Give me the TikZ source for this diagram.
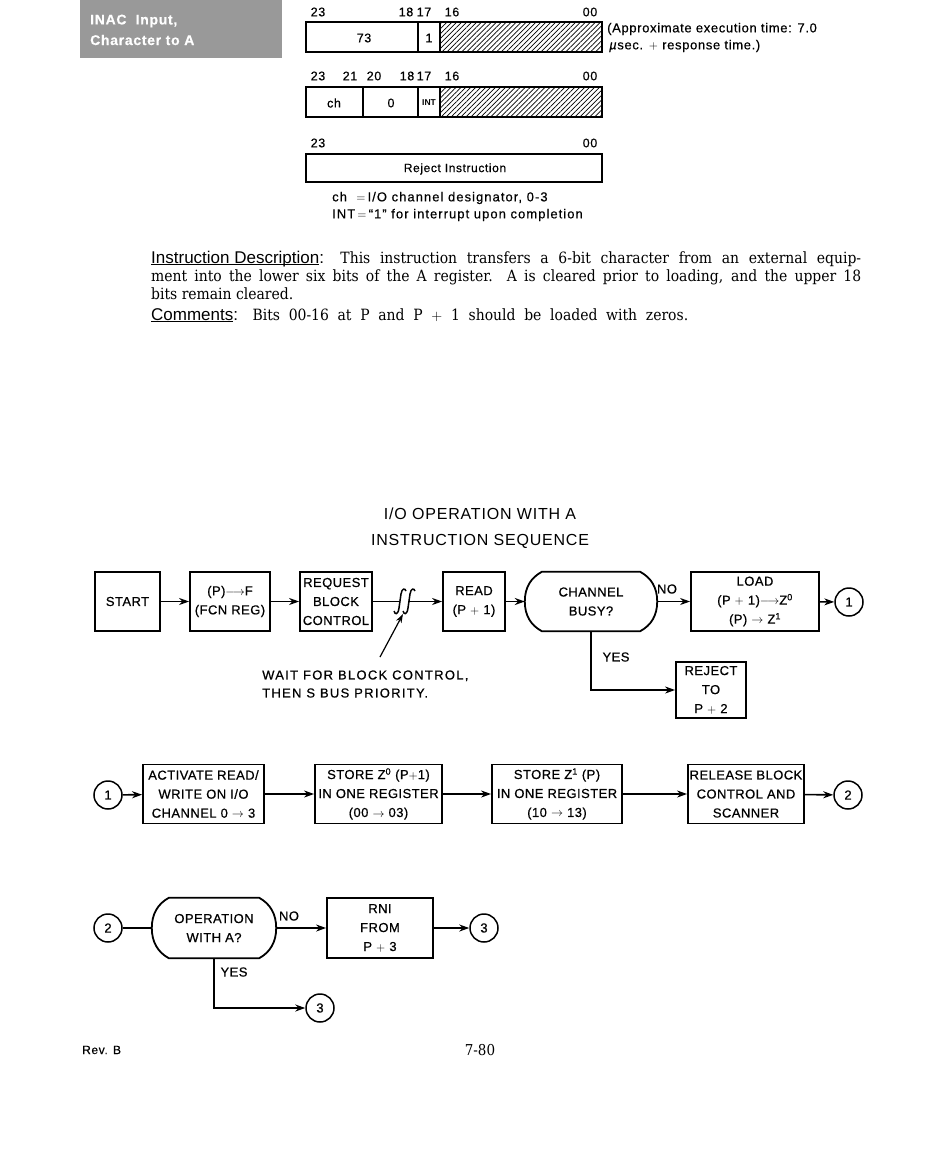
\documentclass[tikz,border=0pt]{standalone}
\usepackage{fontspec}
\setmainfont{DejaVu Serif}
\setsansfont{Liberation Sans}
\newfontfamily\lsans{Liberation Sans}
\newfontfamily\cserif[FakeStretch=0.9]{DejaVu Serif}
\newfontfamily\bsans[FakeBold=0.6,LetterSpace=3.5]{Liberation Sans}
\newfontfamily\wsans[FakeBold=0.6,LetterSpace=10]{Liberation Sans}
\newfontfamily\tsans[LetterSpace=5]{Liberation Sans}
\newfontfamily\nsans[FakeBold=0.4,LetterSpace=8]{Liberation Sans}
\newfontfamily\hsans[FakeBold=0.4,LetterSpace=5]{Liberation Sans}
\newcommand\myul[1]{\underline{\smash{#1}}}
\usetikzlibrary{arrows.meta,calc,patterns.meta}
\begin{document}
\begin{tikzpicture}[x=1pt,y=-1pt,
  fbox/.style={draw, line width=1.8pt, align=center, inner sep=0pt, minimum height=59,
     font=\bsans\fontsize{13}{19}\selectfont},
  dshape/.style={inner sep=0pt, align=center, minimum height=59, font=\bsans\fontsize{13}{19}\selectfont},
  conn/.style={line width=1.6pt, -{Stealth[length=10pt,width=7pt]}},
  plainline/.style={line width=1.6pt},
  cnode/.style={circle, draw, line width=1.5pt, minimum size=28pt, inner sep=0pt,
     font=\bsans\fontsize{13}{15}\selectfont},
  lbl/.style={inner sep=0pt, font=\hsans\fontsize{12.5}{14}\selectfont},
  note/.style={inner sep=0pt, anchor=west, font=\nsans\fontsize{13}{15}\selectfont},
  wordbox/.style={line width=1.9pt},
  hatch/.style={pattern={Lines[angle=45,distance=3.5pt,line width=0.7pt]}},
  dline/.style={anchor=base west, inner sep=0pt, font=\cserif\fontsize{15.5}{18}\selectfont}
]
\useasboundingbox (0,0) rectangle (950,1167);
\fill[white] (0,0) rectangle (950,1167);

% ---- heading tab ----
\fill[black!40] (80,0) rectangle (282,58);
\node[anchor=west, inner sep=0pt, text=white, font=\hsans\bfseries\fontsize{14}{16}\selectfont] (tab1) at (90,21) {INAC\ \ Input,};
\node[anchor=west, inner sep=0pt, text=white, font=\hsans\bfseries\fontsize{14}{16}\selectfont] (tab2) at (90,40) {Character\ to\ A};

% ---- word 1 ----
\fill[hatch] (440,22) rectangle (602,52);
\draw[wordbox] (306,22) rectangle (602,52);
\draw[wordbox] (418,22) -- (418,52) (440,22) -- (440,52);
\node[lbl] (w1a) at (318,12) {23};
\node[lbl] (w1b) at (406,12) {18};
\node[lbl] (w1c) at (424,12) {17};
\node[lbl] (w1d) at (452,12) {16};
\node[lbl] (w1e) at (590,12) {00};
\node[lbl] (w1f) at (364,38) {73};
\node[lbl] (w1g) at (429,38) {1};
\node[note, font=\hsans\fontsize{13}{15}\selectfont] (ex1) at (607,29) {(Approximate execution time: 7.0};
\node[note, font=\hsans\fontsize{13}{15}\selectfont] (ex2) at (609,46) {\textit{µ}sec. $+$ response time.)};

% ---- word 2 ----
\fill[hatch] (440,87) rectangle (602,117);
\draw[wordbox] (306,87) rectangle (602,117);
\draw[wordbox] (363,87) -- (363,117) (418,87) -- (418,117) (440,87) -- (440,117);
\node[lbl] (w2a) at (318,76) {23};
\node[lbl] (w2b) at (350,76) {21};
\node[lbl] (w2c) at (374,76) {20};
\node[lbl] (w2d) at (407,76) {18};
\node[lbl] (w2e) at (424,76) {17};
\node[lbl] (w2f) at (452,76) {16};
\node[lbl] (w2g) at (590,76) {00};
\node[lbl] (w2h) at (334,103) {ch};
\node[lbl] (w2i) at (391,103) {0};
\node[lbl, font=\lsans\bfseries\fontsize{8.5}{9}\selectfont] (w2j) at (429,103) {INT};

% ---- word 3 ----
\draw[wordbox] (306,154) rectangle (602,182);
\node[lbl] (w3a) at (318,143) {23};
\node[lbl] (w3b) at (590,143) {00};
\node[lbl, font=\hsans\fontsize{12}{13}\selectfont] (w3c) at (455,169) {Reject Instruction};
\node[note] (n1) at (332,198) {ch\ \ $=$\,I/O channel designator, 0-3};
\node[note] (n2) at (332,215) {INT\,$=$\,“1” for interrupt upon completion};

% ---- description ----
\node[dline] (d1) at (151,263)
  {\makebox[710pt][s]{{\lsans\fontsize{17}{18}\selectfont\myul{Instruction Description}:} This instruction transfers a 6-bit character from an external equip-}};
\node[dline] (d2) at (151,281)
  {\makebox[710pt][s]{ment into the lower six bits of the A register. A is cleared prior to loading, and the upper 18}};
\node[dline] (d3) at (151,299)
  {bits remain cleared.};
\node[dline] (d4) at (151,320)
  {\makebox[537pt][s]{{\lsans\fontsize{17}{18}\selectfont\myul{Comments}:} Bits 00-16 at P and P $+$ 1 should be loaded with zeros.}};

% ---- title ----
\node[inner sep=0pt, font=\tsans\fontsize{16}{18}\selectfont] (t1) at (480,514) {I/O OPERATION WITH A};
\node[inner sep=0pt, font=\tsans\fontsize{16}{18}\selectfont] (t2) at (480,541) {INSTRUCTION SEQUENCE};

% ---- row 1 ----
\node[fbox, minimum width=65] (start) at (127.5,601.5) {START};
\node[fbox, minimum width=80] (pf) at (230,601.5) {(P)$\longrightarrow$F\\(FCN REG)};
\node[fbox, minimum width=72] (req) at (336,601.5) {REQUEST\\BLOCK\\CONTROL};
\coordinate (sqa) at (400,601);
\coordinate (sqb) at (409,601);
\foreach \c in {sqa,sqb}{
  \draw[line width=1.5pt]
    ($(\c)+(-6,10)$) .. controls ($(\c)+(-5,14)$) and ($(\c)+(-2,14)$) .. ($(\c)+(-1,7)$)
    -- ($(\c)+(1,-7)$) .. controls ($(\c)+(2,-13)$) and ($(\c)+(5,-13)$) .. ($(\c)+(6,-10)$);
}
\node[fbox, minimum width=62] (read) at (474,601.5) {READ\\(P $+$ 1)};
\node[dshape, minimum width=132] (chan) at (591,601.5) {CHANNEL\\BUSY?};
\draw[line width=1.8pt]
  ($(chan.north west)+(17,0)$) -- ($(chan.north east)+(-17,0)$)
  .. controls ($(chan.north east)+(-6,6)$) and ($(chan.east)+(0,-14)$) .. (chan.east)
  .. controls ($(chan.east)+(0,14)$) and ($(chan.south east)+(-6,-6)$) .. ($(chan.south east)+(-17,0)$)
  -- ($(chan.south west)+(17,0)$)
  .. controls ($(chan.south west)+(6,-6)$) and ($(chan.west)+(0,14)$) .. (chan.west)
  .. controls ($(chan.west)+(0,-14)$) and ($(chan.north west)+(6,6)$) .. cycle;
\node[fbox, minimum width=128] (load) at (755,601.5) {LOAD\\(P $+$ 1)$\longrightarrow$Z\textsuperscript{0}\\(P) $\rightarrow$ Z\textsuperscript{1}};
\node[cnode] (c1a) at (849,602) {1};
\node[fbox, minimum width=70, minimum height=56] (rej) at (711,690) {REJECT\\TO\\P $+$ 2};

\draw[conn] (start) -- (pf);
\draw[conn] (pf) -- (req);
\draw[plainline] (req.east) -- (req.east -| sqa);
\draw[conn] (read.west -| sqb) -- (read.west);
\draw[conn] (read) -- (chan);
\draw[conn] (chan.east) -- (load.west);
\draw[conn] (load) -- (c1a);
\draw[conn] (chan.south) |- (rej.west);
\node[inner sep=0pt, font=\bsans\fontsize{13}{15}\selectfont] (no1) at (667,589) {NO};
\node[inner sep=0pt, font=\bsans\fontsize{13}{15}\selectfont] (yes1) at (616,657) {YES};

\coordinate (ptr) at (380,657);
\draw[line width=1.2pt, -{Stealth[length=9pt,width=6pt]}] (ptr) -- ($(sqa)+(3,13)$);
\node[anchor=west, inner sep=0pt, align=left, font=\wsans\fontsize{13}{18}\selectfont] (wait) at (262,684)
  {WAIT FOR BLOCK CONTROL,\\THEN S BUS PRIORITY.};

% ---- row 2 ----
\node[cnode] (c1b) at (108,795) {1};
\node[fbox, minimum width=121] (act) at (203.5,794) {ACTIVATE READ/\\WRITE ON I/O\\CHANNEL 0 $\rightarrow$ 3};
\node[fbox, minimum width=127] (st0) at (378.5,794) {STORE Z\textsuperscript{0} (P$+$1)\\IN ONE REGISTER\\(00 $\rightarrow$ 03)};
\node[fbox, minimum width=130] (st1) at (557,794) {STORE Z\textsuperscript{1} (P)\\IN ONE REGISTER\\(10 $\rightarrow$ 13)};
\node[fbox, minimum width=116] (rel) at (746,794) {RELEASE BLOCK\\CONTROL AND\\SCANNER};
\node[cnode] (c2a) at (848,795) {2};
\draw[conn] (c1b) -- (act);
\draw[conn] (act) -- (st0);
\draw[conn] (st0) -- (st1);
\draw[conn] (st1) -- (rel);
\draw[conn] (rel) -- (c2a);

% ---- row 3 ----
\node[cnode] (c2b) at (108,928) {2};
\node[dshape, minimum width=124, minimum height=60] (op) at (214,928) {OPERATION\\WITH A?};
\draw[line width=1.8pt]
  ($(op.north west)+(17,0)$) -- ($(op.north east)+(-17,0)$)
  .. controls ($(op.north east)+(-6,6)$) and ($(op.east)+(0,-14)$) .. (op.east)
  .. controls ($(op.east)+(0,14)$) and ($(op.south east)+(-6,-6)$) .. ($(op.south east)+(-17,0)$)
  -- ($(op.south west)+(17,0)$)
  .. controls ($(op.south west)+(6,-6)$) and ($(op.west)+(0,14)$) .. (op.west)
  .. controls ($(op.west)+(0,-14)$) and ($(op.north west)+(6,6)$) .. cycle;
\node[fbox, minimum width=106, minimum height=60] (rni) at (380,928) {RNI\\FROM\\P $+$ 3};
\node[cnode] (c3a) at (484,928) {3};
\node[cnode] (c3b) at (320,1008) {3};
\draw[plainline] (c2b) -- (op.west);
\draw[conn] (op.east) -- (rni.west);
\draw[conn] (rni) -- (c3a);
\draw[conn] (op.south) |- (c3b.west);
\node[inner sep=0pt, font=\bsans\fontsize{13}{15}\selectfont] (no2) at (289,916) {NO};
\node[inner sep=0pt, font=\bsans\fontsize{13}{15}\selectfont] (yes2) at (234,972) {YES};

% ---- footer ----
\node[anchor=west, inner sep=0pt, font=\hsans\fontsize{12}{13}\selectfont] (rev) at (82,1050) {Rev. B};
\node[inner sep=0pt, font=\cserif\fontsize{15}{16}\selectfont] (pg) at (480,1050) {7-80};
\end{tikzpicture}
\end{document}
